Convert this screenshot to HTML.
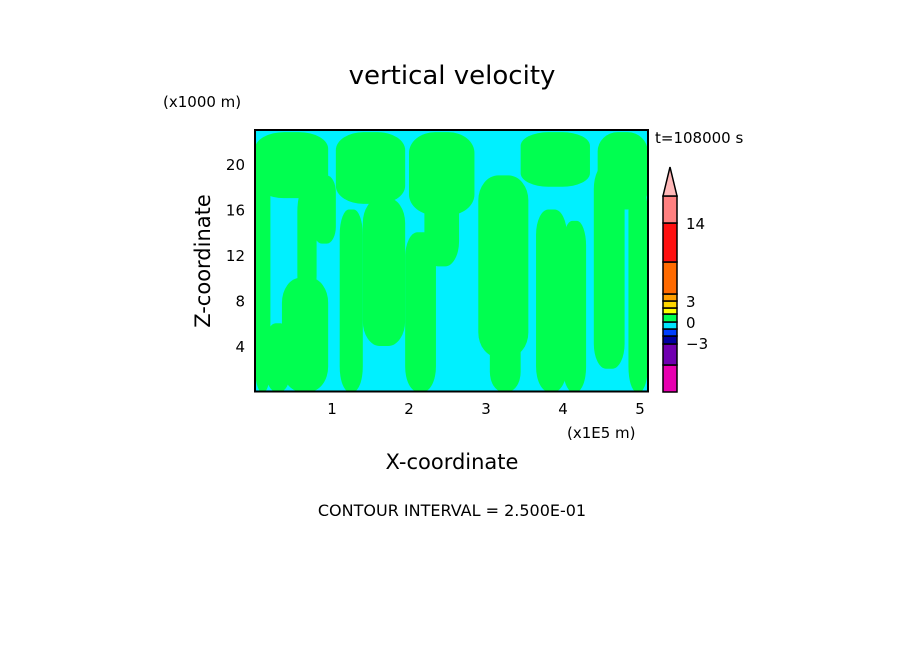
<!DOCTYPE html>
<html><head><meta charset="utf-8"><style>
body{margin:0;background:#fff;width:904px;height:654px;overflow:hidden}
text{font-family:"DejaVu Sans","Liberation Sans",sans-serif;fill:#000}
</style></head><body>
<svg id="chart" width="904" height="654" viewBox="0 0 904 654" xmlns="http://www.w3.org/2000/svg">
<text x="452" y="84" font-size="26" text-anchor="middle">vertical velocity</text>
<text x="163" y="107" font-size="15">(x1000 m)</text>
<text x="655" y="143" font-size="15">t=108000 s</text>
<text transform="translate(210,261) rotate(-90)" font-size="21" text-anchor="middle">Z-coordinate</text>
<text x="452" y="469" font-size="21" text-anchor="middle">X-coordinate</text>
<text x="567" y="438" font-size="15">(x1E5 m)</text>
<text x="452" y="516" font-size="16" text-anchor="middle">CONTOUR INTERVAL = 2.500E-01</text>
<defs><clipPath id="pc"><rect x="255" y="130" width="393" height="262"/></clipPath></defs>
<g id="plot"></g>
<g id="axes"></g>
<g id="cbar"></g>
</svg>
<script>
// data (x in 1e5 m, z in km)
const xTicks=[1,2,3,4,5];
const zTicks=[4,8,12,16,20];
const streakX0=[0,1.05,2.0,3.45,4.45,0,0.35,0.55,1.1,1.4,1.95,2.2,2.9,3.05,3.65,4.0,4.4,4.85,0.75,0.15];
const streakX1=[0.95,1.95,2.85,4.35,5.1,0.2,0.95,0.8,1.4,1.95,2.35,2.65,3.55,3.45,4.05,4.3,4.8,5.1,1.05,0.45];
const streakZ0=[17,16.5,15.5,18,16,0,0,8,0,4,0,11,3,0,0,0,2,0,13,0];
const streakZ1=[22.8,22.8,22.8,22.8,22.8,21,10,18,16,17,14,22,19,7,16,15,20,18,19,6];
const cbarColors=["#e800b0","#7000b0","#0000a0","#0040ff","#00e5ff","#00ff50","#ffff00","#ffd700","#ffa000","#ff6a00","#ff1010","#ff8080"];
const cbarBounds=[392,365,344,336,329,322,314,308,301,294,262,223,196];
const cbarLabels=["14","3","0","-3"];
const cbarLabelY=[223,301,322,343];

const X0=255,X1=648,Y0=391.5,Y1=130;
const sx=v=>X0+v*77, sz=v=>Y0-v*11.375;
const NS="http://www.w3.org/2000/svg";
function mk(t,a,p){const e=document.createElementNS(NS,t);for(const k in a)e.setAttribute(k,a[k]);p.appendChild(e);return e;}
const plot=document.getElementById('plot');
const bg=mk('rect',{x:X0,y:Y1,width:X1-X0,height:Y0-Y1,fill:'#00f0ff'},plot);


const g=mk('g',{'clip-path':'url(#pc)'},plot);
for(let i=0;i<streakX0.length;i++){
  const x=sx(streakX0[i]), w=sx(streakX1[i])-x, y=sz(streakZ1[i]), h=sz(streakZ0[i])-y;
  const e=mk('rect',{x:x,y:y,width:w,height:h,rx:w/2.5,ry:Math.min(h/4,25),fill:'#00ff50'},g);
  
  
}
const fr=mk('rect',{x:X0,y:Y1,width:X1-X0,height:Y0-Y1,fill:'none',stroke:'#000','stroke-width':2},plot);


const ax=document.getElementById('axes');
xTicks.forEach(v=>{const t=mk('text',{x:sx(v),y:414,'font-size':15,'text-anchor':'middle'},ax);t.textContent=v;

});
zTicks.forEach(v=>{const t=mk('text',{x:245,y:sz(v)+6,'font-size':15,'text-anchor':'end'},ax);t.textContent=v;

});
const cb=document.getElementById('cbar');
for(let i=0;i<cbarColors.length;i++){
  const r=mk('rect',{x:663,y:cbarBounds[i+1],width:14,height:cbarBounds[i]-cbarBounds[i+1],fill:cbarColors[i],stroke:'#000','stroke-width':1.5},cb);
  
  
}
const tri=mk('polygon',{points:'663,196 677,196 670,167',fill:'#ffb8b8',stroke:'#000','stroke-width':1.5},cb);


cbarLabels.forEach((l,i)=>{const t=mk('text',{x:686,y:cbarLabelY[i]+6,'font-size':15},cb);t.textContent=l.replace('-','\u2212');

});
</script>
</body></html>
